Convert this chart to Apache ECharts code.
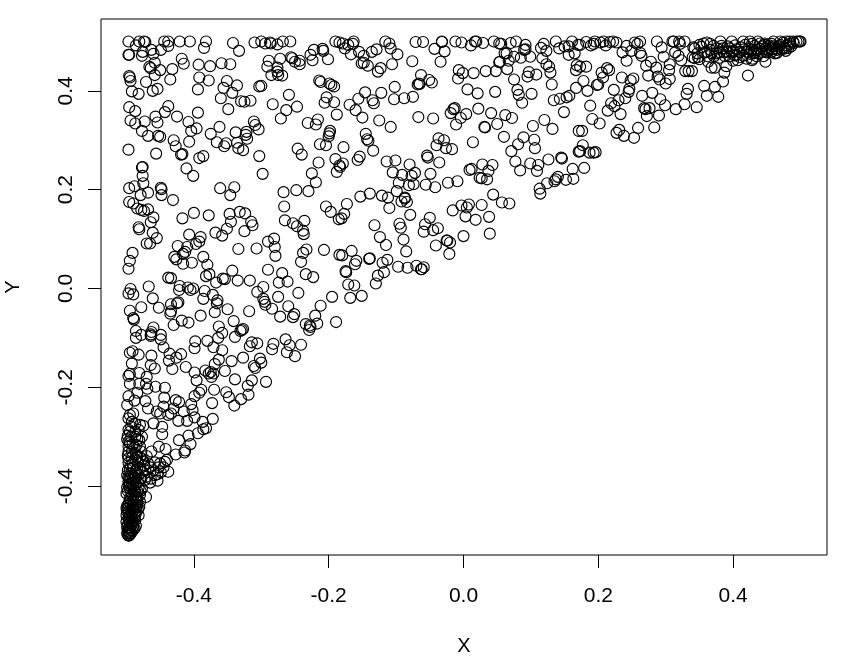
<!DOCTYPE html>
<html><head><meta charset="utf-8">
<script src="https://cdn.jsdelivr.net/npm/echarts@6/dist/echarts.min.js"></script>
<style>html,body{margin:0;padding:0;background:#fff}#c{width:845px;height:661px}</style>
</head><body><div id="c"></div>
<script>
const xTicks=[-0.4,-0.2,0,0.2,0.4];
const yTicks=[-0.4,-0.2,0,0.2,0.4];
const xLimits=[-0.5378,0.5393];
const yLimits=[-0.5395,0.5455];
const pointsUpperLeft=[[-.497,.500],[-.486,.492],[-.481,.500],[-.474,.500],[-.472,.499],[-.444,.500],[-.438,.500],[-.438,.491],[-.421,.500],[-.406,.500],[-.382,.500],[-.385,.487],[-.342,.497],[-.333,.481],[-.310,.498],[-.300,.500],[-.294,.496],[-.287,.498],[-.286,.496],[-.276,.494],[-.268,.500],[-.257,.500],[-.222,.483],[-.209,.485],[-.208,.481],[-.227,.473],[-.224,.462],[-.201,.464],[-.190,.500],[-.184,.498],
[-.497,.473],[-.496,.473],[-.476,.479],[-.477,.471],[-.463,.483],[-.460,.475],[-.449,.483],[-.418,.465],[-.415,.455],[-.393,.453],[-.376,.450],[-.359,.456],[-.346,.454],[-.289,.461],[-.272,.465],[-.256,.468],[-.254,.466],[-.250,.459],[-.243,.461],[-.243,.454],[-.291,.449],[-.276,.447],
[-.466,.449],[-.464,.446],[-.458,.457],[-.450,.442],[-.458,.432],[-.432,.444],[-.496,.430],[-.495,.427],[-.494,.420],[-.471,.418],[-.435,.423],[-.392,.427],[-.378,.421],[-.351,.420],[-.336,.411],[-.356,.406],[-.394,.403],[-.343,.396],[-.360,.385],[-.492,.399],[-.482,.394],[-.461,.400],[-.454,.404],[-.303,.409],[-.300,.410],[-.285,.432],[-.276,.439],[-.275,.432],[-.269,.431],[-.214,.421],[-.212,.418],[-.199,.415],[-.196,.412],[-.192,.409],[-.330,.379],[-.325,.378],[-.316,.380],[-.259,.392],[-.283,.373],[-.247,.368],[-.263,.361],[-.271,.344],[-.349,.363],[-.203,.387],[-.206,.376],[-.192,.377],[-.188,.352],
[-.496,.367],[-.487,.359],[-.438,.369],[-.443,.357],[-.457,.348],[-.425,.348],[-.394,.356],[-.494,.340],[-.487,.334],[-.473,.338],[-.454,.336],[-.408,.337],[-.396,.324],[-.404,.319],[-.362,.327],[-.375,.313],[-.338,.316],[-.322,.317],[-.323,.311],[-.321,.303],[-.311,.338],[-.309,.331],[-.304,.322],[-.231,.335],[-.216,.342],[-.219,.332],[-.198,.319],[-.199,.314],[-.200,.308],[-.477,.319],[-.468,.309],[-.453,.309],[-.450,.307],[-.430,.300],[-.407,.297],[-.366,.296],[-.352,.294],[-.355,.288],[-.336,.295],[-.334,.284],[-.327,.280],[-.213,.292],[-.204,.290],[-.427,.288],[-.419,.271],[-.417,.272],[-.497,.281],[-.456,.273],[-.246,.283],[-.240,.271],[-.303,.268],[-.392,.264],[-.386,.268],[-.190,.262],[-.184,.249],[-.188,.236],[-.215,.255],[-.476,.246],[-.477,.245],[-.411,.243],[-.401,.228],[-.476,.228],[-.298,.232],[-.225,.233],[-.219,.215],[-.475,.213],[-.488,.207],[-.496,.203],[-.449,.204],[-.448,.201],[-.468,.194],[-.448,.189],[-.479,.189],[-.361,.203],[-.340,.205],[-.346,.189],[-.267,.195],[-.248,.199],[-.230,.197],[-.431,.179]];
const pointsUpperMiddle=[[-.179,.496],[-.171,.493],[-.163,.500],[-.164,.495],[-.176,.486],[-.167,.474],[-.155,.479],[-.148,.471],[-.151,.456],[-.148,.457],[-.142,.451],[-.136,.479],[-.129,.484],[-.116,.500],[-.110,.496],[-.108,.486],[-.098,.474],[-.106,.454],[-.123,.446],[-.127,.439],[-.071,.499],[-.060,.499],[-.076,.460],[-.043,.485],[-.032,.500],[-.032,.499],[-.028,.480],[-.034,.459],[-.012,.500],[-.003,.498],[.011,.492],[.017,.500],[.019,.500],[.029,.497],[.045,.500],[.053,.496],[.056,.495],[.070,.497],[.078,.500],[.092,.493],[.090,.483],[.092,.484],[.085,.467],[.075,.469],[.099,.469],[.061,.476],[.064,.476],[.053,.458],[.054,.459],[.067,.461],[.065,.444],[.033,.440],[.048,.440],[.015,.436],[-.007,.442],[-.001,.436],[-.008,.425],[.075,.423],[.097,.438],[.095,.429],[.108,.433],[.117,.466],[.123,.454],[.127,.449],[.129,.437],[.131,.413],[.115,.487],[.119,.495],[.123,.481],[.137,.500],[.142,.486],[.150,.490],[.156,.490],[.161,.500],[.156,.473],[.165,.476],[.170,.493],[.168,.452],[.167,.442],
[-.063,.432],[-.051,.422],[-.047,.417],[-.066,.415],[-.068,.413],[-.065,.414],[.006,.403],[.021,.395],[.047,.398],[.080,.402],[.082,.392],[.087,.376],[.101,.394],[-.102,.408],[-.103,.383],[-.088,.385],[-.075,.388],[-.146,.397],[-.156,.384],[-.122,.396],[-.135,.381],[-.133,.375],[-.169,.372],[-.160,.361],[-.150,.346],[-.125,.340],[-.108,.327],[-.067,.347],[-.045,.344],[.134,.381],[.143,.384],[.153,.387],[.157,.390],[.167,.406],[.149,.357],[-.013,.365],[-.015,.363],[-.019,.355],[.004,.353],[-.004,.345],[-.011,.332],[.022,.364],[.041,.355],[.062,.351],[.072,.345],[.050,.333],[.031,.327],[.032,.326],[.103,.329],[.120,.341],[.132,.323],[.171,.319],
[-.145,.313],[-.143,.302],[-.141,.299],[-.178,.286],[-.134,.279],[-.154,.267],[-.157,.260],[-.179,.253],[-.183,.246],[-.114,.257],[-.101,.259],[-.080,.251],[-.036,.255],[-.054,.269],[-.053,.265],[-.037,.304],[-.029,.300],[-.040,.290],[-.026,.284],[-.017,.282],[.014,.296],[.060,.307],[.089,.306],[.081,.292],[.071,.278],[.105,.301],[.106,.284],[.077,.257],[.099,.253],[.111,.250],[.109,.238],[.084,.239],[.126,.261],[.145,.265],[.146,.263],[.162,.242],[.163,.222],[.171,.277],
[-.105,.235],[-.091,.230],[-.072,.234],[-.077,.228],[-.049,.232],[-.096,.214],[-.081,.209],[-.074,.211],[-.056,.210],[-.042,.205],[-.023,.214],[-.009,.217],[.028,.251],[.043,.250],[.037,.238],[.012,.242],[.009,.240],[.024,.224],[.027,.223],[.035,.221],[.140,.226],[.137,.221],[.135,.217],[.124,.213],[.152,.220],[.113,.202],[.114,.192],[.044,.190],[-.099,.197],[-.139,.192],[-.153,.186],[-.121,.188],[-.112,.184],[-.087,.184]];
const pointsCenter=[[-.173,.171],[-.177,.151],[-.181,.142],[-.092,.176],[-.084,.175],[-.087,.182],[-.110,.163],[-.079,.149],[-.132,.128],[-.095,.131],[-.093,.123],[-.124,.104],[-.115,.088],[-.089,.099],[-.085,.075],[-.050,.143],[-.057,.130],[-.038,.122],[-.045,.118],[-.059,.115],[-.041,.087],[-.025,.097],[-.024,.097],[-.020,.093],[-.021,.070],[-.016,.158],[-.003,.168],[.008,.170],[.005,.164],[.003,.146],[.018,.139],[.027,.169],[.038,.145],[.039,.111],[.000,.106],[.057,.174],[.068,.172],[-.166,.076],[-.180,.067],[-.159,.056],[-.161,.049],[-.139,.061],[-.140,.060],[-.113,.058],[-.120,.052],[-.118,.033],[-.127,.026],[-.130,.010],[-.097,.044],[-.083,.042],[-.070,.046],[-.059,.043],[-.062,.039],[-.063,.039],[-.175,.035],[-.174,.033],[-.171,.008],[-.162,.006],[-.168,-.019],[-.151,-.015]];
const pointsUpperRight=[[.173,.493],[.182,.499],[.189,.492],[.195,.500],[.193,.495],[.203,.498],[.208,.500],[.211,.492],[.217,.499],[.222,.500],[.227,.498],[.242,.491],[.236,.478],[.249,.481],[.254,.498],[.262,.500],[.258,.495],[.262,.477],[.264,.471],[.242,.461],[.287,.500],[.294,.488],[.297,.469],[.310,.500],[.312,.500],[.320,.500],[.321,.495],[.328,.500],[.314,.478],[.319,.471],[.323,.462],[.278,.459],[.271,.451],[.286,.447],[.306,.454],[.305,.442],[.274,.431],[.288,.429],[.291,.423],[.306,.424],[.300,.415],[.182,.449],[.173,.449],[.213,.446],[.216,.442],[.205,.437],[.207,.427],[.235,.427],[.252,.425],[.248,.421],[.178,.420],[.200,.413],[.198,.412],[.184,.400],[.223,.402],[.246,.404],[.245,.398],[.240,.385],[.230,.381],[.219,.375],[.224,.369],[.188,.370],[.214,.360],[.233,.353],[.265,.390],[.280,.396],[.292,.383],[.299,.371],[.268,.365],[.270,.363],[.276,.365],[.272,.349],[.290,.350],[.315,.363],[.328,.373],[.346,.367],[.331,.394],[.333,.404],[.357,.410],[.373,.408],[.361,.390],[.378,.388],[.385,.419],[.387,.437],[.390,.450],[.422,.431],[.448,.459],[.429,.465],[.329,.440],[.334,.440],[.339,.440],[.191,.343],[.202,.334],[.176,.319],[.231,.321],[.227,.315],[.238,.309],[.253,.305],[.259,.325],[.283,.326],[.177,.290],[.173,.278],[.187,.275],[.193,.275],[.196,.276],[.179,.244]];
const pointsTopRightTip=[[.341,.488],[.343,.486],[.356,.496],[.361,.498],[.366,.495],[.371,.491],[.381,.500],[.383,.491],[.398,.500],[.395,.486],[.400,.481],[.405,.484],[.415,.500],[.418,.493],[.425,.500],[.428,.495],[.437,.500],[.440,.496],[.447,.493],[.452,.483],[.457,.495],[.465,.477],[.470,.500],[.474,.498],[.479,.500],[.484,.500],[.489,.500],[.494,.500],[.497,.500],[.499,.500],[.500,.500],[.477,.486],[.464,.486],[.442,.479],[.430,.476],[.415,.471],[.428,.462],[.400,.461],[.380,.467],[.363,.459],[.368,.447],[.373,.447],[.348,.468],[.350,.464],[.340,.468],[.347,.476],[.366,.483],[.390,.479],[.405,.473],[.410,.479],[.423,.486],[.435,.483],[.457,.479],[.470,.493],[.460,.500],[.447,.496],[.432,.491],[.385,.486],[.376,.486],[.353,.489],[.343,.466],[.485,.495],[.490,.497],[.480,.492],[.475,.488],[.465,.483],[.460,.490],[.455,.487],[.450,.478],[.445,.470],[.440,.485],[.435,.470],[.425,.475],[.420,.465],[.412,.488],[.407,.462],[.403,.492],[.395,.470],[.388,.470],[.380,.478],[.372,.470],[.358,.478],[.350,.493],
[.486,.490],[.482,.487],[.478,.481],[.472,.484],[.468,.490],[.462,.476],[.458,.484],[.453,.492],[.448,.485],[.443,.490],[.438,.476],[.433,.478],[.427,.482],[.421,.479],[.416,.484],[.410,.468],[.402,.472],[.398,.478],[.392,.490],[.386,.478],[.376,.476],[.368,.476],[.362,.470]];
const pointsMiddleLeft=[[-.496,.175],[-.490,.172],[-.484,.162],[-.478,.159],[-.474,.157],[-.468,.160],[-.460,.144],[-.464,.134],[-.482,.124],[-.481,.120],[-.461,.113],[-.455,.102],[-.470,.091],[-.465,.091],[-.417,.142],[-.400,.153],[-.378,.148],[-.347,.151],[-.332,.155],[-.324,.152],[-.266,.166],[-.204,.166],[-.197,.155],[-.185,.140],[-.345,.135],[-.315,.135],[-.313,.128],[-.325,.116],[-.351,.121],[-.368,.113],[-.358,.107],[-.265,.138],[-.253,.132],[-.247,.126],[-.236,.137],[-.238,.117],[-.237,.110],[-.407,.109],[-.390,.104],[-.392,.095],[-.397,.090],[-.281,.101],[-.290,.095],[-.280,.084],[-.279,.066],[-.334,.080],[-.307,.081],[-.424,.086],[-.410,.084],[-.413,.074],[-.416,.070],[-.429,.064],[-.426,.059],[-.233,.079],[-.238,.072],[-.241,.054],[-.207,.078],[-.184,.068],[-.491,.072],[-.495,.056],[-.497,.040],[-.386,.064],[-.380,.048],[-.403,.052],[-.416,.050],[-.377,.029],[-.382,.025],[-.343,.036],[-.290,.038],[-.269,.031],[-.234,.029],[-.223,.023],[-.274,.012],[-.261,.014],[-.438,.022],[-.434,.021],[-.367,.012],[-.357,.020],[-.354,.019],[-.335,.016],[-.317,.016],[-.297,.003],[-.306,-.007],[-.245,-.009],[-.467,.004],[-.494,-.001],[-.497,-.010],[-.490,-.012],[-.421,.005],[-.422,-.003],[-.409,.002],[-.405,-.003],[-.401,.000],[-.384,-.005],[-.372,-.013],[-.386,-.021],[-.461,-.020],[-.275,-.017],[-.297,-.021],[-.295,-.027],[-.294,-.033],[-.195,-.017],[-.423,-.028],[-.425,-.030],[-.434,-.032],[-.365,-.024],[-.366,-.030],[-.478,-.038],[-.452,-.039],[-.260,-.036],[-.284,-.041],[-.212,-.035],[-.495,-.045],[-.434,-.046],[-.435,-.051],[-.369,-.048],[-.350,-.042],[-.318,-.046],[-.390,-.055],[-.490,-.060],[-.489,-.063],[-.251,-.052],[-.253,-.058],[-.272,-.057],[-.220,-.055],[-.418,-.065],[-.408,-.069],[-.430,-.074],[-.341,-.066],[-.234,-.072],[-.228,-.075],[-.227,-.078],[-.217,-.071],[-.229,-.084],[-.189,-.068],[-.363,-.077],[-.358,-.090],[-.364,-.100],[-.460,-.079],[-.486,-.086],[-.463,-.088],[-.464,-.093],[-.478,-.094],[-.486,-.100],[-.464,-.096],[-.449,-.094],[-.449,-.103],[-.445,-.119],[-.327,-.082],[-.329,-.084],[-.331,-.086],[-.339,-.098],[-.398,-.107],[-.399,-.121],[-.380,-.106],[-.371,-.119],[-.358,-.125],[-.264,-.103],[-.282,-.112],[-.284,-.123],[-.258,-.115],[-.241,-.114],[-.262,-.129],[-.250,-.137],[-.306,-.111],[-.314,-.109],[-.317,-.117],[-.419,-.133],[-.426,-.140],[-.436,-.132],[-.437,-.146],[-.463,-.136],[-.495,-.130],[-.491,-.127],[-.482,-.134],[-.327,-.140],[-.344,-.147],[-.363,-.144],[-.369,-.153],[-.302,-.142],[-.300,-.150],[-.311,-.157],[-.309,-.161],[-.492,-.152],[-.464,-.155],[-.458,-.162],[-.432,-.163],[-.412,-.159],[-.399,-.170],[-.383,-.166],[-.354,-.167],[-.375,-.169],[-.371,-.172],[-.378,-.172],[-.495,-.173],[-.497,-.177],[-.481,-.171],[-.470,-.179],[-.396,-.186],[-.374,-.179],[-.339,-.184],[-.314,-.186],[-.293,-.189]];
const pointsLowerLeft=[[-.495,-.193],[-.481,-.193],[-.471,-.193],[-.469,-.203],[-.457,-.199],[-.443,-.201],[-.484,-.211],[-.497,-.218],[-.488,-.227],[-.499,-.236],[-.472,-.228],[-.444,-.221],[-.468,-.243],[-.455,-.249],[-.445,-.239],[-.427,-.226],[-.422,-.230],[-.430,-.243],[-.434,-.253],[-.438,-.256],[-.450,-.253],[-.415,-.249],[-.402,-.246],[-.404,-.234],[-.399,-.261],[-.410,-.268],[-.423,-.268],[-.387,-.270],[-.372,-.264],[-.382,-.283],[-.386,-.285],[-.394,-.293],[-.408,-.298],[-.405,-.315],[-.422,-.307],[-.413,-.328],[-.414,-.332],[-.427,-.336],[-.442,-.325],[-.452,-.320],[-.463,-.330],[-.460,-.273],[-.447,-.280],[-.447,-.295],[-.389,-.205],[-.392,-.211],[-.399,-.218],[-.370,-.205],[-.352,-.210],[-.348,-.220],[-.340,-.237],[-.330,-.224],[-.319,-.215],[-.320,-.197],[-.373,-.232]];
const pointsBottomColumn=[[-.497,-.263],[-.495,-.256],[-.490,-.253],[-.492,-.270],[-.487,-.274],[-.480,-.276],[-.475,-.278],[-.497,-.286],[-.495,-.290],[-.487,-.290],[-.482,-.286],[-.477,-.300],[-.481,-.307],[-.497,-.310],[-.495,-.313],[-.485,-.317],[-.480,-.320],[-.497,-.330],[-.497,-.344],[-.492,-.342],[-.487,-.346],[-.470,-.339],[-.468,-.354],[-.480,-.364],[-.465,-.362],[-.477,-.371],[-.495,-.366],[-.497,-.381],[-.490,-.384],[-.470,-.381],[-.473,-.388],[-.465,-.393],[-.454,-.389],[-.454,-.376],[-.443,-.351],[-.450,-.354],[-.440,-.347],[-.438,-.371],[-.445,-.362],[-.477,-.405],[-.471,-.422],[-.497,-.398],[-.490,-.401],[-.500,-.415],[-.492,-.418],[-.485,-.421],[-.480,-.432],[-.497,-.438],[-.490,-.438],[-.482,-.459],[-.497,-.452],[-.492,-.455],[-.487,-.469],[-.497,-.465],[-.495,-.475],[-.490,-.482],[-.497,-.486],[-.499,-.496],[-.495,-.497],[-.497,-.500],[-.497,-.500],[-.492,-.445],[-.500,-.445],[-.490,-.428],[-.495,-.425],[-.485,-.442],[-.487,-.452],[-.500,-.472],[-.492,-.465],[-.494,-.489],[-.496,-.500],[-.497,-.499],[-.497,-.492],[-.500,-.459],[-.480,-.418],[-.487,-.411],[-.497,-.391],[-.492,-.394],
[-.498,-.478],[-.496,-.470],[-.494,-.460],[-.493,-.450],[-.491,-.440],[-.489,-.432],[-.499,-.452],[-.499,-.440],[-.496,-.432],[-.494,-.428],[-.488,-.462],[-.490,-.472],[-.492,-.478],[-.495,-.483],[-.498,-.490],[-.493,-.495],[-.496,-.494],[-.499,-.484],[-.489,-.445],[-.487,-.438],[-.484,-.430],[-.486,-.425],[-.483,-.448],[-.495,-.405],[-.489,-.410],[-.498,-.410],[-.493,-.375],[-.486,-.370],[-.498,-.368],[-.483,-.392],[-.487,-.383],[-.491,-.355],[-.497,-.353],[-.484,-.340],[-.492,-.330],[-.488,-.322],[-.478,-.330],[-.497,-.320],[-.493,-.300],[-.487,-.300],[-.498,-.298],[-.493,-.280],
[-.495,-.395],[-.491,-.388],[-.486,-.396],[-.482,-.403],[-.479,-.410],[-.483,-.412],[-.493,-.412],[-.499,-.403],[-.496,-.385],[-.499,-.378],[-.494,-.382],[-.488,-.376],[-.482,-.378],[-.478,-.385],[-.484,-.365],[-.490,-.362],[-.494,-.358],[-.483,-.352],[-.477,-.345],[-.474,-.358],[-.472,-.368],[-.486,-.335],[-.480,-.342],[-.475,-.350],[-.498,-.338],[-.491,-.315],[-.484,-.305],[-.499,-.305],[-.458,-.352],[-.452,-.362],[-.458,-.378],[-.449,-.372],[-.460,-.368],[-.464,-.385],[-.486,-.455],[-.484,-.438],[-.481,-.442],[-.486,-.480],[-.488,-.486],[-.491,-.490],[-.498,-.445],[-.494,-.437],[-.492,-.472],[-.496,-.462]];
const allPoints=[].concat(pointsUpperLeft,pointsUpperMiddle,pointsCenter,pointsUpperRight,pointsTopRightTip,pointsMiddleLeft,pointsLowerLeft,pointsBottomColumn);
const font='"Liberation Sans", Arial, sans-serif';
const chart=echarts.init(document.getElementById('c'),null,{renderer:'canvas'});
const axisBase={
  type:'value',splitLine:{show:false},nameLocation:'middle',
  nameTextStyle:{color:'#000',fontFamily:font,fontSize:20},
  axisLine:{show:false,onZero:false},
  axisTick:{show:true,length:13,lineStyle:{color:'#000',width:1}},
  minorTick:{show:false}
};
chart.setOption({
  animation:false,backgroundColor:'#fff',
  grid:{left:101,top:19,width:726,height:536,show:true,borderColor:'#000',borderWidth:1,backgroundColor:'transparent',containLabel:false,outerBoundsMode:'none'},
  xAxis:Object.assign({},axisBase,{min:xLimits[0],max:xLimits[1],name:'X',nameGap:81,
    axisTick:Object.assign({},axisBase.axisTick,{customValues:xTicks}),
    axisLabel:{customValues:xTicks,color:'#000',fontFamily:font,fontSize:21,margin:31,formatter:v=>v.toFixed(1),hideOverlap:false,showMinLabel:true,showMaxLabel:true}}),
  yAxis:Object.assign({},axisBase,{min:yLimits[0],max:yLimits[1],name:'Y',nameGap:78,
    axisTick:Object.assign({},axisBase.axisTick,{customValues:yTicks}),
    axisLabel:{customValues:yTicks,color:'#000',fontFamily:font,fontSize:21,rotate:90,margin:35,formatter:v=>v.toFixed(1),hideOverlap:false,verticalAlign:'middle',align:'center'}}),
  series:[{type:'scatter',data:allPoints,symbol:'circle',symbolSize:11,silent:true,large:false,clip:false,
    itemStyle:{color:'rgba(0,0,0,0)',borderColor:'#000',borderWidth:1.15,opacity:1},emphasis:{disabled:true}}]
});
</script></body></html>
